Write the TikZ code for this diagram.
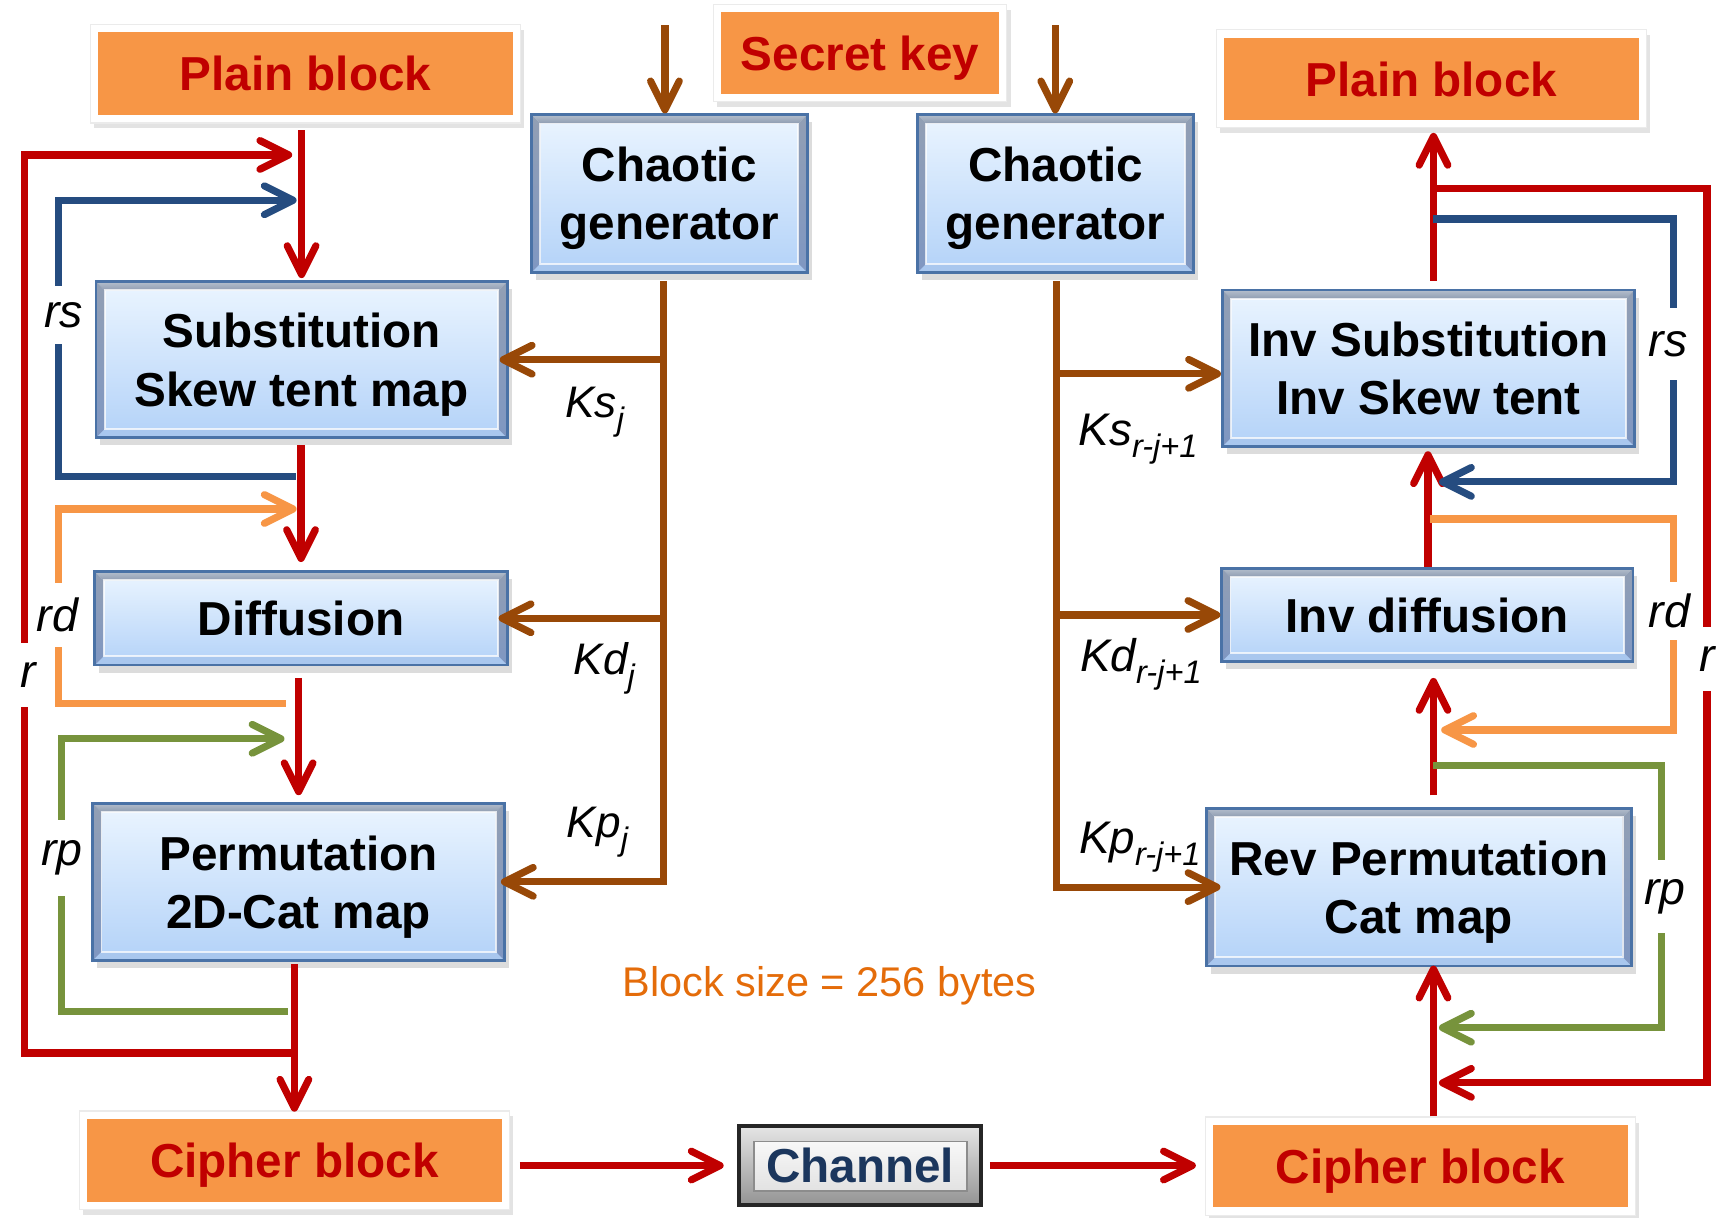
\documentclass[tikz,border=0pt]{standalone}
\usepackage{fontspec}
\setmainfont{Liberation Sans}
\usetikzlibrary{arrows.meta,shadows,calc}

\definecolor{flowred}{HTML}{C00000}
\definecolor{rsblue}{HTML}{254C80}
\definecolor{rdorange}{HTML}{F79646}
\definecolor{rpgreen}{HTML}{77933C}
\definecolor{keybrown}{HTML}{984807}
\definecolor{blockfill}{HTML}{F79646}
\definecolor{sizeorange}{HTML}{E46C0A}
\definecolor{chanblue}{HTML}{1B365D}
\definecolor{rim}{HTML}{4A72A6}
\definecolor{facetop}{HTML}{EBF5FF}
\definecolor{facebot}{HTML}{B3D2F8}
\definecolor{bevtopA}{HTML}{B4BECC}
\definecolor{bevtopB}{HTML}{8E9CB1}
\definecolor{bevsideA}{HTML}{929FB4}
\definecolor{bevsideB}{HTML}{7F97C2}
\definecolor{bevbot}{HTML}{A9C7EE}

\newcommand\boxlbl{\fontsize{12.3}{15}\selectfont\bfseries}
\newcommand\bev{0.8mm}
% key label: size, name, subscript
\newcommand\keyname[3]{{\fontsize{#1}{#1}\selectfont\itshape #2\raisebox{-3.2pt}{\fontsize{8.4}{8.4}\selectfont #3}}}

\tikzset{
  arr/.style={-{Straight Barb[length=2.6mm,width=2.6mm,round]}},
  flowline/.style={line width=1.85pt},
  redflow/.style={flowline, draw=flowred},
  blueflow/.style={flowline, draw=rsblue},
  orangeflow/.style={flowline, draw=rdorange},
  greenflow/.style={flowline, draw=rpgreen},
  brownflow/.style={flowline, draw=keybrown},
  blockbox/.style={rectangle, inner sep=0pt, text depth=0pt, fill=white, draw=black!8, line width=0.3pt,
    drop shadow={shadow xshift=0.35mm, shadow yshift=-0.5mm, opacity=0.22},
    path picture={\fill[blockfill] ([shift={(2pt,-2pt)}]path picture bounding box.north west)
      rectangle ([shift={(-2pt,2pt)}]path picture bounding box.south east);},
    font=\boxlbl, text=flowred},
  bevelbox/.style={rectangle, inner sep=0pt, text depth=0pt, align=center, font=\boxlbl,
    draw=rim, line width=0.7pt, top color=facetop, bottom color=facebot,
    drop shadow={shadow xshift=0.4mm, shadow yshift=-0.7mm, opacity=0.28},
    path picture={
      \path (path picture bounding box.north west) coordinate (bv1)
            (path picture bounding box.north east) coordinate (bv2)
            (path picture bounding box.south east) coordinate (bv3)
            (path picture bounding box.south west) coordinate (bv4);
      \path ([shift={(\bev,-\bev)}]bv1) coordinate (bw1)
            ([shift={(-\bev,-\bev)}]bv2) coordinate (bw2)
            ([shift={(-\bev,\bev)}]bv3) coordinate (bw3)
            ([shift={(\bev,\bev)}]bv4) coordinate (bw4);
      \shade[top color=bevtopA, bottom color=bevtopB] (bv1) -- (bv2) -- (bw2) -- (bw1) -- cycle;
      \fill[bevbot] (bv4) -- (bv3) -- (bw3) -- (bw4) -- cycle;
      \shade[top color=bevsideA, bottom color=bevsideB] (bv1) -- (bw1) -- (bw4) -- (bv4) -- cycle;
      \shade[top color=bevsideA, bottom color=bevsideB] (bv2) -- (bw2) -- (bw3) -- (bv3) -- cycle;
      \draw[white, opacity=0.75, line width=0.5pt] (bw1) rectangle (bw3);
    }},
  chanbox/.style={rectangle, inner sep=0pt, draw=black!85, line width=1pt,
    top color=black!10, bottom color=black!42,
    path picture={\shade[top color=white, bottom color=black!14, draw=black!45, line width=0.4pt]
      ([shift={(1.4mm,-1.4mm)}]path picture bounding box.north west)
      rectangle ([shift={(-1.3mm,1.3mm)}]path picture bounding box.south east);},
    font=\boxlbl, text=chanblue},
  looplbl/.style={fill=white, inner xsep=0.5pt, inner ysep=0pt,
    font=\fontsize{12}{12}\selectfont\itshape},
  keylbl/.style={anchor=base west, inner sep=0pt},
}

\begin{document}
\begin{tikzpicture}[x=0.1mm, y=-0.1mm]
\useasboundingbox (0,0) rectangle (1568,1104);

% ---------- blocks ----------
\node[blockbox, minimum width=39mm, minimum height=8.95mm] (plainL) at (277,66.75) {Plain block};
\node[blockbox, minimum width=26.6mm, minimum height=8.8mm] (key) at (780,48) {Secret key};
\node[blockbox, minimum width=39mm, minimum height=8.9mm] (plainR) at (1298,71.5) {Plain block};
\node[blockbox, minimum width=39mm, minimum height=8.95mm] (cipherL) at (267,1052.25) {Cipher block};
\node[blockbox, minimum width=39mm, minimum height=8.9mm] (cipherR) at (1288,1057.5) {Cipher block};

\node[bevelbox, minimum width=25mm, minimum height=14.3mm] (genL) at (607,175.5) {Chaotic\\generator};
\node[bevelbox, minimum width=25.06mm, minimum height=14.3mm] (genR) at (957.3,175.5) {Chaotic\\generator};
\node[bevelbox, minimum width=37.3mm, minimum height=14.16mm] (subs) at (273.5,326.2) {Substitution\\Skew tent map};
\node[bevelbox, minimum width=37.4mm, minimum height=8.46mm] (diff) at (273,560.7) {Diffusion};
\node[bevelbox, minimum width=37.35mm, minimum height=14.26mm] (perm) at (270.8,799.7) {Permutation\\2D-Cat map};
\node[bevelbox, minimum width=37.4mm, minimum height=14.2mm] (isubs) at (1295.5,334) {Inv Substitution\\Inv Skew tent};
\node[bevelbox, minimum width=37.3mm, minimum height=8.46mm] (idiff) at (1294.4,557.7) {Inv diffusion};
\node[bevelbox, minimum width=38.56mm, minimum height=14.3mm] (rperm) at (1286.8,804.5) {Rev Permutation\\Cat map};
\node[chanbox, minimum width=22mm, minimum height=7.2mm] (chan) at (780,1057) {Channel};

\node[anchor=base west, inner sep=0pt, text=sizeorange, font=\fontsize{10.7}{12}\selectfont] (bsize) at (564,904) {Block size = 256 bytes};

% ---------- guide coordinates ----------
\coordinate (keyL) at (603,23);
\coordinate (keyR) at (957,23);
\coordinate (trunkL) at (602,0);
\coordinate (trunkR) at (958,0);
\coordinate (colR) at (1300,0);
\coordinate (colR2) at (1295,0);

% ---------- encryption chain ----------
\draw[redflow, arr, shorten <=0.6mm, shorten >=0.2mm] (plainL.south -| subs.north) -- (subs.north);
\draw[redflow, arr, shorten <=0.55mm, shorten >=0.75mm] (subs.south -| diff.north) -- (diff.north);
\draw[redflow, arr, shorten <=1.05mm, shorten >=0.6mm] (diff.south -| perm.north) -- (perm.north);
\draw[redflow, arr, shorten <=0.2mm, shorten >=-0.12mm] (perm.south -| cipherL.north) -- (cipherL.north);

% round loops (encryption side)
\coordinate (rL-out) at (265,955);   \coordinate (rL-turn) at (22,140.5);   \coordinate (rL-in) at (265,140.5);
\coordinate (rsL-out) at (268,432);  \coordinate (rsL-turn) at (53,181.6);  \coordinate (rsL-in) at (269,181.6);
\coordinate (rdL-out) at (259,637.7);\coordinate (rdL-turn) at (53,461.6);  \coordinate (rdL-in) at (269,461.6);
\coordinate (rpL-out) at (261,917);  \coordinate (rpL-turn) at (55.8,670);  \coordinate (rpL-in) at (258,670);
\draw[redflow, arr] (rL-out) -| (rL-turn) -- (rL-in);
\draw[blueflow, arr] (rsL-out) -| (rsL-turn) -- (rsL-in);
\draw[orangeflow, arr] (rdL-out) -| (rdL-turn) -- (rdL-in);
\draw[greenflow, arr] (rpL-out) -| (rpL-turn) -- (rpL-in);

% ---------- decryption chain ----------
\draw[redflow, arr, shorten >=-0.15mm] (cipherR.north -| colR) -- (rperm.south -| colR);
\draw[redflow, arr, shorten <=1.05mm, shorten >=1.36mm] (rperm.north -| colR) -- (idiff.south -| colR);
\draw[redflow, arr, shorten >=0.3mm] (idiff.north -| colR2) -- (isubs.south -| colR2);
\draw[redflow, arr, shorten <=0.7mm, shorten >=0.4mm] (isubs.north -| colR) -- (plainR.south -| colR);

% round loops (decryption side)
\coordinate (rR-out) at (1300,170.7);  \coordinate (rR-turn) at (1548,982);  \coordinate (rR-in) at (1305,982);
\coordinate (rsR-out) at (1300,198.6); \coordinate (rsR-turn) at (1518,437); \coordinate (rsR-in) at (1305,437);
\coordinate (rdR-out) at (1297,470.7); \coordinate (rdR-turn) at (1518,662); \coordinate (rdR-in) at (1307,662);
\coordinate (rpR-out) at (1300,694);   \coordinate (rpR-turn) at (1507,932); \coordinate (rpR-in) at (1305,932);
\draw[redflow, arr] (rR-out) -| (rR-turn) -- (rR-in);
\draw[blueflow, arr] (rsR-out) -| (rsR-turn) -- (rsR-in);
\draw[orangeflow, arr] (rdR-out) -| (rdR-turn) -- (rdR-in);
\draw[greenflow, arr] (rpR-out) -| (rpR-turn) -- (rpR-in);

% ---------- key streams ----------
\draw[brownflow, arr] (keyL) -- (keyL |- genL.north);
\draw[brownflow, arr] (keyR) -- (keyR |- genR.north);
\draw[brownflow, arr, shorten <=0.7mm, shorten >=-0.45mm] (genL.south -| trunkL) -- (perm.east -| trunkL) -- (perm.east);
\draw[brownflow, arr, shorten >=-0.8mm] (subs.east -| trunkL) -- (subs.east);
\draw[brownflow, arr, shorten >=-0.9mm] (diff.east -| trunkL) -- (diff.east);
\draw[brownflow, arr, shorten <=0.7mm, shorten >=-1.4mm] (genR.south -| trunkR) -- (rperm.west -| trunkR) -- (rperm.west);
\draw[brownflow, arr] ([yshift=-0.5mm]isubs.west -| trunkR) -- ([yshift=-0.5mm]isubs.west);
\draw[brownflow, arr] (idiff.west -| trunkR) -- (idiff.west);

% ---------- channel ----------
\draw[redflow, arr, shorten <=0.9mm, shorten >=1.2mm] (cipherL.east |- chan.west) -- (chan.west);
\draw[redflow, arr, shorten <=0.6mm, shorten >=0.8mm] (chan.east) -- (chan.east -| cipherR.west);

% ---------- labels ----------
\node[looplbl, minimum height=5.3mm] (lrsL) at (57.7,285.5) {rs};
\node[looplbl, minimum height=5.75mm] (lrdL) at (52,557.8) {rd};
\node[looplbl, minimum height=5.8mm] (lrL) at (26,612) {r};
\node[looplbl, minimum height=6.9mm] (lrpL) at (56,778.3) {rp};
\node[looplbl, minimum height=6.5mm] (lrsR) at (1513,311.8) {rs};
\node[looplbl, minimum height=5.25mm] (lrdR) at (1514,553.8) {rd};
\node[looplbl, minimum height=5.8mm] (lrR) at (1548,597.9) {r};
\node[looplbl, minimum height=6.6mm] (lrpR) at (1510,813) {rp};

\node[keylbl] (ksL) at (512,379) {\keyname{11.4}{Ks}{j}};
\node[keylbl] (kdL) at (519.5,612) {\keyname{11.4}{Kd}{j}};
\node[keylbl] (kpL) at (513.4,759.7) {\keyname{11.4}{Kp}{j}};
\node[keylbl] (ksR) at (977.6,403.6) {\keyname{11.8}{Ks}{r-j+1}};
\node[keylbl] (kdR) at (979,609) {\keyname{11.8}{Kd}{r-j+1}};
\node[keylbl] (kpR) at (978,774) {\keyname{11.8}{Kp}{r-j+1}};
\end{tikzpicture}
\end{document}
